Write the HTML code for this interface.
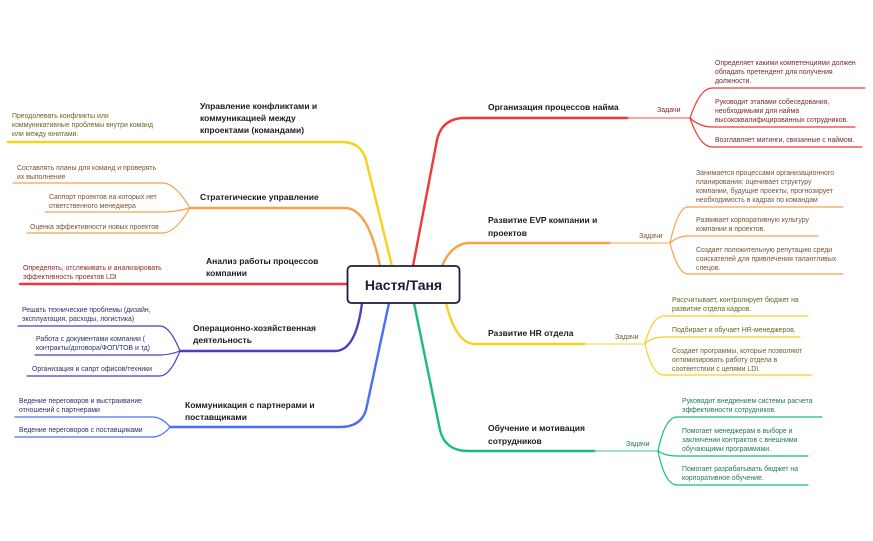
<!DOCTYPE html>
<html><head><meta charset="utf-8"><style>
html,body{margin:0;padding:0;background:#fff;}
svg{display:block;font-family:"Liberation Sans","DejaVu Sans",sans-serif;}
.t{font-size:8.5px;font-weight:bold;fill:#1b1b22;}
.s{font-size:6.9px;}
.z{font-size:7px;}
path{fill:none;stroke-linecap:round;}
</style></head><body>
<svg width="873" height="541" viewBox="0 0 873 541" xmlns="http://www.w3.org/2000/svg">
<g stroke-width="2.4">
<path d="M413 266 L437 140 Q442 118 465 118 L628 118" stroke="#f0373b"/>
<path d="M442 266 Q452 243 470 243 L610 243" stroke="#f7a24a"/>
<path d="M446 303 Q456 344 475 344 L585 344" stroke="#f4d21f"/>
<path d="M414 303 L440 430 Q445 451 468 451 L595 451" stroke="#1dbb76"/>
<path d="M392 266 L366 160 Q361 142 342 142 L8 142" stroke="#f4d21f"/>
<path d="M380 266 Q368 208 345 208 L190 208" stroke="#f7a24a"/>
<path d="M347 284 L20 284" stroke="#f0373b"/>
<path d="M362 303 Q356 351 335 351 L180 351" stroke="#4c3fc0"/>
<path d="M389 303 L366 410 Q361 427 340 427 L170 427" stroke="#4d6cf8"/>
</g>
<g stroke-width="1.6">
<path d="M628 118 L690 118" stroke="#f58a8a"/>
<path d="M610 243 L670 243" stroke="#f8c088"/>
<path d="M585 344 L645 344" stroke="#f7e27a"/>
<path d="M595 451 L658 451" stroke="#7fd8ae"/>
</g>
<g stroke-width="1.2">
<path d="M690 118 Q700 88 712 88 L865 88" stroke="#f0373b"/>
<path d="M690 118 Q700 127 712 127 L855 127" stroke="#f0373b"/>
<path d="M690 118 Q700 147 712 147 L862 147" stroke="#f0373b"/>
<path d="M670 243 Q678 207 688 207 L843 207" stroke="#f7a24a"/>
<path d="M670 243 Q678 236 688 236 L818 236" stroke="#f7a24a"/>
<path d="M670 243 Q678 274 688 274 L843 274" stroke="#f7a24a"/>
<path d="M645 344 Q652 316 664 316 L808 316" stroke="#f4d21f"/>
<path d="M645 344 Q652 337 664 337 L800 337" stroke="#f4d21f"/>
<path d="M645 344 Q652 375 664 375 L812 375" stroke="#f4d21f"/>
<path d="M658 451 Q665 417 677 417 L822 417" stroke="#1dbb76"/>
<path d="M658 451 Q665 456 677 456 L808 456" stroke="#1dbb76"/>
<path d="M658 451 Q665 485 677 485 L808 485" stroke="#1dbb76"/>
<path d="M190 208 Q175 183 163 183 L13 183" stroke="#f7a24a"/>
<path d="M190 208 Q175 212 163 212 L45 212" stroke="#f7a24a"/>
<path d="M190 208 Q175 233 163 233 L27 233" stroke="#f7a24a"/>
<path d="M180 351 Q170 326 160 326 L18 326" stroke="#4c3fc0"/>
<path d="M180 351 Q170 355 160 355 L35 355" stroke="#4c3fc0"/>
<path d="M180 351 Q170 376 160 376 L27 376" stroke="#4c3fc0"/>
<path d="M170 427 Q162 417 152 417 L15 417" stroke="#4d6cf8"/>
<path d="M170 427 Q162 437 152 437 L15 437" stroke="#4d6cf8"/>
</g>
<rect x="347.5" y="266" width="112" height="37" rx="4" fill="#fff" stroke="#1b1d3a" stroke-width="1.8"/>
<text x="403.5" y="290" text-anchor="middle" style="font-size:14px;font-weight:bold;fill:#1b1d3a">Настя/Таня</text>
<text class="t" x="488" y="110">Организация процессов найма</text>
<text class="t" x="488" y="223">Развитие EVP компании и</text>
<text class="t" x="488" y="236">проектов</text>
<text class="t" x="488" y="336">Развитие HR отдела</text>
<text class="t" x="488" y="431">Обучение и мотивация</text>
<text class="t" x="488" y="444">сотрудников</text>
<text class="t" x="200" y="109">Управление конфликтами и</text>
<text class="t" x="200" y="121">коммуникацией между</text>
<text class="t" x="200" y="133">кпроектами (командами)</text>
<text class="t" x="200" y="200">Стратегические управление</text>
<text class="t" x="206" y="264">Анализ работы процессов</text>
<text class="t" x="206" y="276">компании</text>
<text class="t" x="193" y="331">Операционно-хозяйственная</text>
<text class="t" x="193" y="343">деятельность</text>
<text class="t" x="185" y="408">Коммуникация с партнерами и</text>
<text class="t" x="185" y="420">поставщиками</text>
<text class="z" x="657" y="112" fill="#7a2a2a">Задачи</text>
<text class="z" x="639" y="238" fill="#7a5230">Задачи</text>
<text class="z" x="615" y="339" fill="#6f6220">Задачи</text>
<text class="z" x="626" y="446" fill="#1e7a55">Задачи</text>
<g class="s" fill="#7a2a2a">
<text x="715" y="65">Определяет какими компетенциями должен</text>
<text x="715" y="74">обладать претендент для получения</text>
<text x="715" y="83">должности.</text>
<text x="715" y="104">Руководит этапами собеседования,</text>
<text x="715" y="113">необходимыми для найма</text>
<text x="715" y="122">высококвалифицированных сотрудников.</text>
<text x="715" y="142">Возглавляет митинги, связанные с наймом.</text>
</g>
<g class="s" fill="#7a5230">
<text x="696" y="175">Занимается процессами организационного</text>
<text x="696" y="184">планирования: оценивает структуру</text>
<text x="696" y="193">компании, будущие проекты, прогнозирует</text>
<text x="696" y="202">необходимость в кадрах по командам</text>
<text x="696" y="222">Развивает корпоративную культуру</text>
<text x="696" y="231">компании и проектов.</text>
<text x="696" y="252">Создает положительную репутацию среди</text>
<text x="696" y="261">соискателей для привлечения талантливых</text>
<text x="696" y="270">спецов.</text>
</g>
<g class="s" fill="#6f6220">
<text x="672" y="302">Рассчитывает, контролирует бюджет на</text>
<text x="672" y="311">развитие отдела кадров.</text>
<text x="672" y="332">Подбирает и обучает HR-менеджеров.</text>
<text x="672" y="353">Создает программы, которые позволяют</text>
<text x="672" y="362">оптимизировать работу отдела в</text>
<text x="672" y="371">соответствии с целями LDI.</text>
</g>
<g class="s" fill="#1e7a55">
<text x="682" y="403">Руководит внедрением системы расчета</text>
<text x="682" y="412">эффективности сотрудников.</text>
<text x="682" y="433">Помогает менеджерам в выборе и</text>
<text x="682" y="442">заключении контрактов с внешними</text>
<text x="682" y="451">обучающими программами.</text>
<text x="682" y="471">Помогает разрабатывать бюджет на</text>
<text x="682" y="480">корпоративное обучение.</text>
</g>
<g class="s" fill="#6f6220">
<text x="12" y="118">Преодолевать конфликты или</text>
<text x="12" y="127">коммуникативные проблемы внутри команд</text>
<text x="12" y="136">или между юнитами.</text>
</g>
<g class="s" fill="#7a5230">
<text x="17" y="170">Составлять планы для команд и проверять</text>
<text x="17" y="179">их выполнение</text>
<text x="49" y="199">Саппорт проектов на которых нет</text>
<text x="49" y="208">ответственного менеджера</text>
<text x="30" y="229">Оценка эффективности новых проектов</text>
</g>
<g class="s" fill="#8a2a2a">
<text x="23" y="270">Определять, отслеживать и анализировать</text>
<text x="23" y="279">эффективность проектов LDI</text>
</g>
<g class="s" fill="#2b2f6b">
<text x="22" y="312">Решать технические проблемы (дизайн,</text>
<text x="22" y="321">эксплуатация, расходы, логистика)</text>
<text x="36" y="341">Работа с документами компании (</text>
<text x="36" y="350">контракты/договора/ФОП/ТОВ и тд)</text>
<text x="32" y="371">Организация и сапрт офисов/техники</text>
<text x="19" y="403">Ведение переговоров и выстраивание</text>
<text x="19" y="412">отношений с партнерами</text>
<text x="19" y="432">Ведение переговоров с поставщиками</text>
</g>
</svg>
</body></html>
